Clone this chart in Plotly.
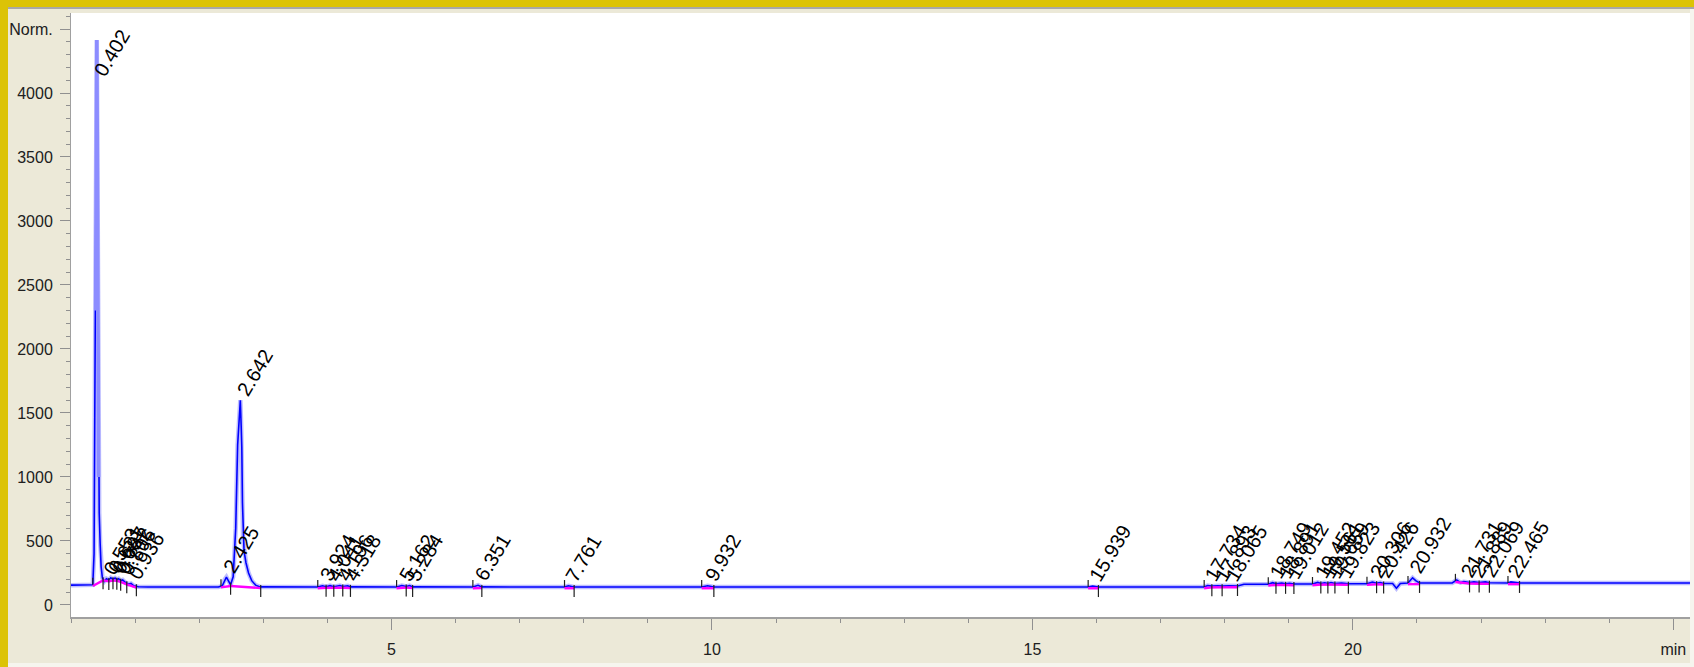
import numpy as np
import plotly.graph_objects as go

# ---- figure geometry (pixels) ----
W, H = 1694, 667
ML, MR, MT, MB = 71, 4, 13, 50
X_RANGE = [0, 25.26]
Y_RANGE = [-94, 4625]

# ---- detector trace: retention time (min) and response ----
time_min = [
    0.00, 0.30, 0.34, 0.36, 0.375, 0.385, 0.395, 0.402, 0.41, 0.42, 0.43, 0.44,
    0.455, 0.47, 0.49, 0.52, 0.553, 0.59, 0.621, 0.655, 0.687, 0.715, 0.742,
    0.775, 0.806, 0.85, 0.90, 0.936, 0.98, 1.05, 1.20,
    2.30, 2.36, 2.40, 2.425, 2.45, 2.49, 2.53, 2.57, 2.60, 2.642, 2.655, 2.665,
    2.675, 2.685, 2.70, 2.73, 2.77, 2.82, 2.88, 2.95,
    3.85, 3.924, 3.98, 4.041, 4.10, 4.196, 4.24, 4.318, 4.36,
    5.08, 5.162, 5.23, 5.284, 5.33,
    6.27, 6.351, 6.41,
    7.70, 7.761, 7.85,
    9.84, 9.932, 10.03,
    15.87, 15.939, 16.03,
    17.68, 17.734, 17.80, 17.893, 17.96, 18.065, 18.20, 18.30,
    18.68, 18.749, 18.80, 18.891, 18.95, 19.012, 19.08,
    19.37, 19.452, 19.50, 19.561, 19.61, 19.659, 19.72, 19.823, 19.93,
    20.22, 20.306, 20.37, 20.426, 20.48, 20.62, 20.68, 20.74,
    20.86, 20.932, 20.98, 21.04,
    21.55, 21.62, 21.68, 21.731, 21.82, 21.889, 21.97, 22.069, 22.13,
    22.42, 22.465, 22.60, 25.26,
]
signal = [
    155, 155, 158, 400, 1500, 2300, 3800, 4414, 3700, 2100, 1000, 720,
    480, 300, 210, 185, 205, 195, 212, 200, 210, 198, 205,
    190, 196, 175, 162, 168, 150, 142, 140,
    140, 150, 200, 218, 195, 158, 220, 600, 1250, 1600, 1400, 1230,
    800, 520, 420, 330, 250, 190, 155, 141,
    140, 150, 143, 151, 143, 152, 144, 150, 141,
    140, 152, 145, 152, 141,
    140, 154, 141,
    140, 150, 140,
    140, 150, 140,
    140, 148, 140,
    140, 152, 147, 150, 147, 150, 148, 162,
    162, 174, 165, 172, 165, 170, 164,
    164, 176, 168, 174, 168, 175, 168, 172, 166,
    166, 178, 170, 175, 168, 168, 130, 168,
    172, 212, 190, 172,
    172, 195, 175, 182, 176, 180, 175, 180, 174,
    172, 180, 172, 172,
]

# ---- integration results: apex time, peak start, peak end ----
peak_rt = [0.402, 0.553, 0.621, 0.687, 0.742, 0.806, 0.936,
           2.425, 2.642,
           3.924, 4.041, 4.196, 4.318,
           5.162, 5.284, 6.351, 7.761, 9.932, 15.939,
           17.734, 17.893, 18.065,
           18.749, 18.891, 19.012,
           19.452, 19.561, 19.659, 19.823,
           20.306, 20.426, 20.932,
           21.731, 21.889, 22.069, 22.465]
peak_start = [0.34, 0.50, 0.59, 0.655, 0.715, 0.775, 0.87,
              2.34, 2.49,
              3.85, 3.98, 4.10, 4.24,
              5.08, 5.23, 6.27, 7.70, 9.84, 15.87,
              17.68, 17.80, 17.96,
              18.68, 18.80, 18.95,
              19.37, 19.50, 19.61, 19.72,
              20.22, 20.37, 20.86,
              21.60, 21.82, 21.97, 22.42]
peak_end = [0.50, 0.59, 0.655, 0.715, 0.775, 0.87, 1.02,
            2.49, 2.96,
            3.98, 4.10, 4.24, 4.36,
            5.23, 5.33, 6.41, 7.85, 10.03, 16.03,
            17.80, 17.96, 18.20,
            18.80, 18.95, 19.08,
            19.50, 19.61, 19.72, 19.93,
            20.37, 20.48, 21.04,
            21.82, 21.97, 22.13, 22.60]

x_tick_vals = [5, 10, 15, 20, 25]
x_tick_text = ["5", "10", "15", "20", "min"]
y_tick_vals = [0, 500, 1000, 1500, 2000, 2500, 3000, 3500, 4000, 4500]
y_tick_text = ["0", "500", "1000", "1500", "2000", "2500", "3000", "3500", "4000", "Norm."]

# ---- helpers ----
plot_w = W - ML - MR
plot_h = H - MT - MB
units_per_px = (Y_RANGE[1] - Y_RANGE[0]) / plot_h


def paper_x(px):
    return (px - ML) / plot_w


def paper_y(py):
    return (H - MB - py) / plot_h


def level(t):
    return float(np.interp(t, time_min, signal))


fig = go.Figure()

# soft halo under the trace
fig.add_trace(go.Scatter(x=time_min, y=signal, mode="lines",
                         line=dict(color="rgba(110,110,255,0.45)", width=4.5),
                         hoverinfo="skip", showlegend=False))
fig.add_trace(go.Scatter(x=time_min, y=signal, mode="lines",
                         line=dict(color="#0000FF", width=1.6),
                         showlegend=False))

# the very narrow solvent peak renders as a pale band
t_arr = np.array(time_min)
narrow = (t_arr >= 0.385) & (t_arr <= 0.43)
fig.add_trace(go.Scatter(x=t_arr[narrow], y=np.array(signal)[narrow], mode="lines",
                         line=dict(color="#8C8CFF", width=3.5),
                         hoverinfo="skip", showlegend=False))

# integration baselines
bx, by = [], []
for s, e in zip(peak_start, peak_end):
    bx += [s, e, None]
    by += [level(s) - 1.2 * units_per_px, level(e) - 1.2 * units_per_px, None]
fig.add_trace(go.Scatter(x=bx, y=by, mode="lines",
                         line=dict(color="#FF00FF", width=2.4),
                         hoverinfo="skip", showlegend=False))

# start / end tick marks
tx, ty = [], []
prev_end = None
for s, e in zip(peak_start, peak_end):
    if prev_end is None or abs(s - prev_end) > 1e-6:
        b = level(s)
        tx += [s, s, None]
        ty += [b, b + 7 * units_per_px, None]
    b = level(e)
    tx += [e, e, None]
    ty += [b + 2 * units_per_px, b - 10 * units_per_px, None]
    prev_end = e
fig.add_trace(go.Scatter(x=tx, y=ty, mode="lines",
                         line=dict(color="#202020", width=1.2),
                         hoverinfo="skip", showlegend=False))

# retention-time labels at peak apexes (kept inside the plot at the top)
label_cap = Y_RANGE[1] - 68 * units_per_px
for rt in peak_rt:
    fig.add_annotation(x=rt, y=min(level(rt), label_cap), text=f"{rt:.3f}",
                       showarrow=False, textangle=-59,
                       xanchor="left", yanchor="bottom", xshift=-10, yshift=-2,
                       font=dict(family="Liberation Sans", size=20, color="#000000"))

# window frame
frame = [
    dict(x0=paper_x(0), x1=paper_x(W), y0=paper_y(0), y1=paper_y(7), color="#DCC306"),
    dict(x0=paper_x(8), x1=paper_x(W), y0=paper_y(7), y1=paper_y(9), color="#A8A8A8"),
    dict(x0=paper_x(0), x1=paper_x(8), y0=paper_y(H), y1=paper_y(0), color="#DCC306"),
    dict(x0=paper_x(8), x1=paper_x(W), y0=paper_y(H), y1=paper_y(663), color="#F6F5EE"),
    dict(x0=paper_x(1690), x1=paper_x(W), y0=paper_y(H), y1=paper_y(9), color="#F6F5EE"),
]
for f in frame:
    fig.add_shape(type="rect", xref="paper", yref="paper",
                  x0=f["x0"], x1=f["x1"], y0=f["y0"], y1=f["y1"],
                  fillcolor=f["color"], line=dict(width=0), layer="above")

tick_font = dict(family="Liberation Sans", size=16, color="#202020")
fig.update_layout(
    width=W, height=H,
    margin=dict(l=ML, r=MR, t=MT, b=MB, pad=0),
    paper_bgcolor="#ECE9D8",
    plot_bgcolor="#FFFFFF",
    showlegend=False,
    xaxis=dict(range=X_RANGE, showgrid=False, zeroline=False,
               showline=True, linecolor="#A0A0A0", linewidth=2,
               tickmode="array", tickvals=x_tick_vals, ticktext=x_tick_text,
               ticks="outside", ticklen=11, tickwidth=1, tickcolor="#909090",
               ticklabelstandoff=6, tickfont=tick_font,
               minor=dict(tickmode="linear", tick0=0, dtick=1, ticks="outside",
                          ticklen=4, tickcolor="#909090", tickwidth=1)),
    yaxis=dict(range=Y_RANGE, showgrid=False, zeroline=False,
               showline=True, linecolor="#A0A0A0", linewidth=1,
               tickmode="array", tickvals=y_tick_vals, ticktext=y_tick_text,
               ticks="outside", ticklen=10, tickwidth=1, tickcolor="#909090",
               ticklabelstandoff=4, tickfont=tick_font,
               minor=dict(tickmode="linear", tick0=0, dtick=100, ticks="outside",
                          ticklen=4, tickcolor="#909090", tickwidth=1)),
)

fig.write_html("out.html")
